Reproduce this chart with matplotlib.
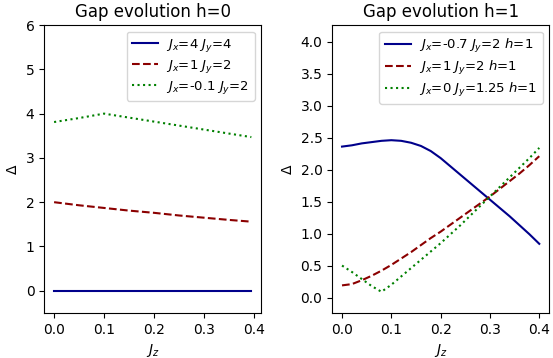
import numpy as np
import matplotlib
matplotlib.use('Agg')
import matplotlib.pyplot as plt

# Jz grid for h=0 panel
jz_h0 = [0.0, 0.05, 0.1, 0.15, 0.2, 0.25, 0.3, 0.35, 0.395]
gap_h0_a = [0, 0, 0, 0, 0, 0, 0, 0, 0]
gap_h0_b = [2.0, 1.93, 1.87, 1.81, 1.76, 1.70, 1.65, 1.60, 1.56]
gap_h0_c = [3.81, 3.90, 4.0, 3.91, 3.82, 3.73, 3.64, 3.55, 3.47]
labels_h0 = [r'$J_x$=4 $J_y$=4', r'$J_x$=1 $J_y$=2', r'$J_x$=-0.1 $J_y$=2']

# Jz grid for h=1 panel
jz_h1 = [0.0, 0.02, 0.04, 0.06, 0.08, 0.1, 0.12, 0.14, 0.16, 0.18, 0.2,
         0.22, 0.24, 0.26, 0.28, 0.3, 0.32, 0.34, 0.36, 0.38, 0.4]
gap_h1_a = [2.36, 2.38, 2.41, 2.43, 2.45, 2.46, 2.45, 2.42, 2.37, 2.29, 2.18,
            2.05, 1.92, 1.79, 1.66, 1.53, 1.40, 1.27, 1.13, 0.99, 0.84]
gap_h1_b = [0.19, 0.21, 0.27, 0.34, 0.42, 0.51, 0.61, 0.71, 0.82, 0.93, 1.03,
            1.14, 1.25, 1.36, 1.47, 1.58, 1.70, 1.82, 1.94, 2.07, 2.21]
gap_h1_c = [0.50, 0.40, 0.29, 0.18, 0.09, 0.20, 0.33, 0.46, 0.59, 0.72, 0.85,
            0.99, 1.13, 1.28, 1.43, 1.58, 1.73, 1.88, 2.03, 2.18, 2.34]
labels_h1 = [r'$J_x$=-0.7 $J_y$=2 $h$=1', r'$J_x$=1 $J_y$=2 $h$=1',
             r'$J_x$=0 $J_y$=1.25 $h$=1']

fig, (ax1, ax2) = plt.subplots(1, 2, figsize=(5.53, 3.58), dpi=100)
fig.subplots_adjust(left=0.08, right=0.993, bottom=0.126, top=0.930, wspace=0.327)

leg_kw = dict(loc='upper right', fontsize=9.5, labelspacing=0.3,
              handletextpad=0.6, borderaxespad=0.5)

# left panel
ax1.plot(jz_h0, gap_h0_a, color='darkblue', linestyle='-', label=labels_h0[0])
ax1.plot(jz_h0, gap_h0_b, color='darkred', linestyle='--', label=labels_h0[1])
ax1.plot(jz_h0, gap_h0_c, color='green', linestyle=':', label=labels_h0[2])
ax1.set_ylim(-0.5, 6)
ax1.set_title('Gap evolution h=0')
ax1.set_xlabel(r'$J_z$')
ax1.set_ylabel(r'$\Delta$')
ax1.legend(**leg_kw)

# right panel
ax2.plot(jz_h1, gap_h1_a, color='darkblue', linestyle='-', label=labels_h1[0])
ax2.plot(jz_h1, gap_h1_b, color='darkred', linestyle='--', label=labels_h1[1])
ax2.plot(jz_h1, gap_h1_c, color='green', linestyle=':', label=labels_h1[2])
ax2.set_ylim(-0.24, 4.26)
ax2.set_title('Gap evolution h=1')
ax2.set_xlabel(r'$J_z$')
ax2.set_ylabel(r'$\Delta$')
ax2.legend(**leg_kw)

for ax in (ax1, ax2):
    ax.set_xticks([0.0, 0.1, 0.2, 0.3, 0.4])

fig.savefig('out.png', dpi=100)
